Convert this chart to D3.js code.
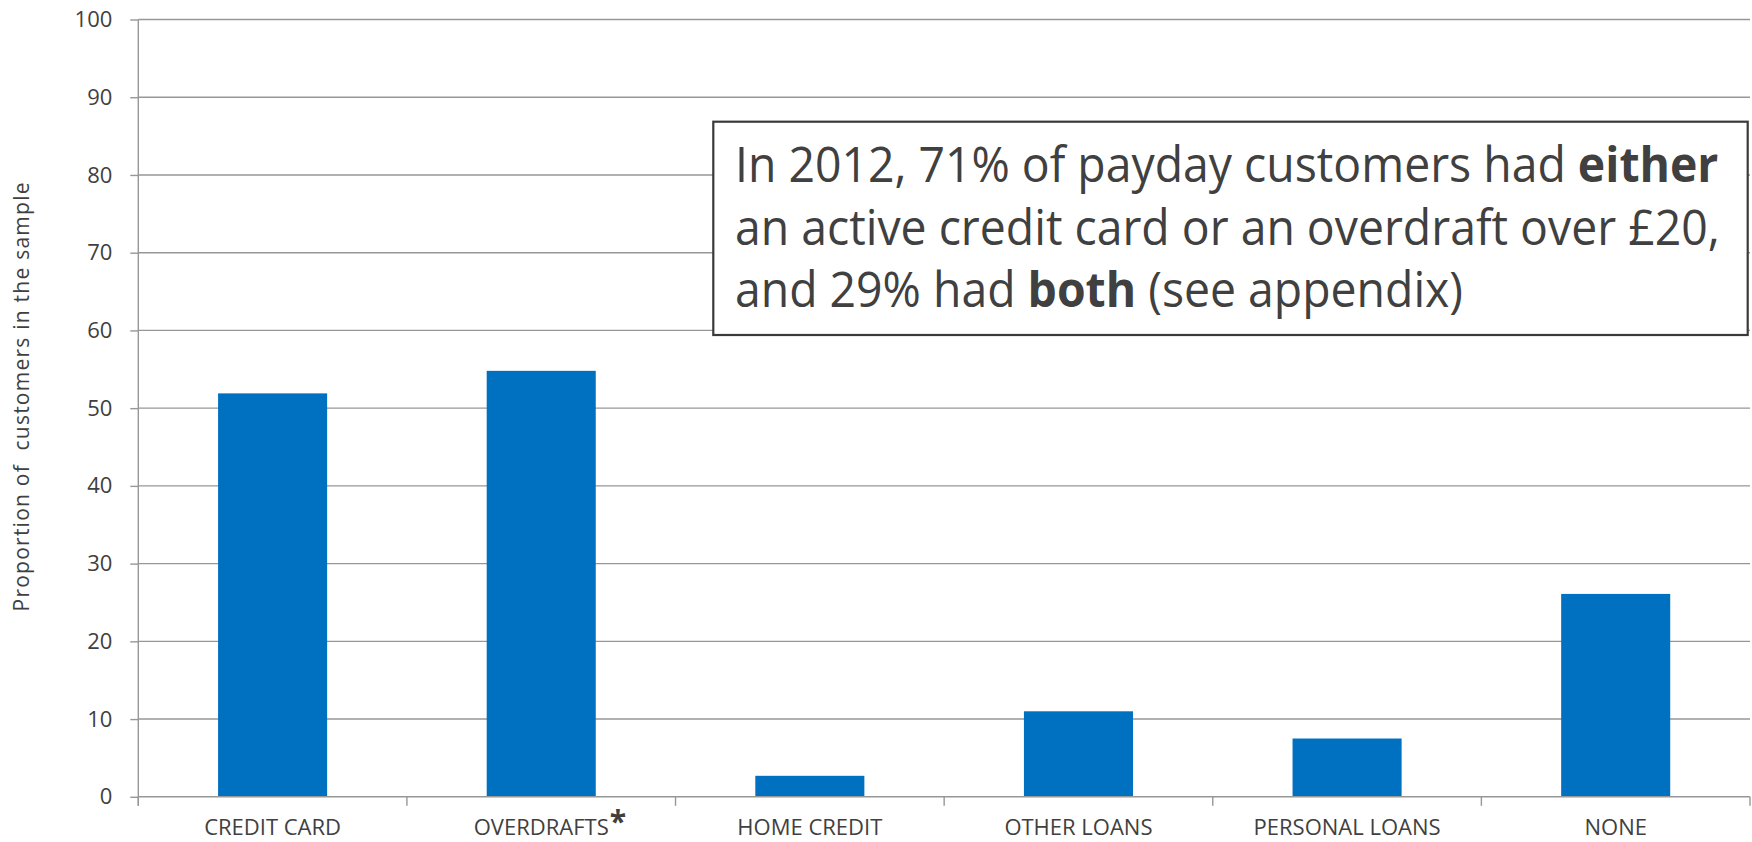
<!DOCTYPE html>
<html>
<head>
<meta charset="utf-8">
<script src="https://cdn.jsdelivr.net/npm/d3@7"></script>
<style>
  body { margin: 0; background: #fff; }
  text { font-family: "Open Sans", sans-serif; fill: #404040; }
</style>
</head>
<body>
<div id="chart"></div>
<script>
// data
var categories = ["CREDIT CARD", "OVERDRAFTS", "HOME CREDIT", "OTHER LOANS", "PERSONAL LOANS", "NONE"];
var values = [51.9, 54.8, 2.7, 11.0, 7.5, 26.1];
var yTicks = [0, 10, 20, 30, 40, 50, 60, 70, 80, 90, 100];
var yTitle = "Proportion of \u00a0customers in the sample";
var footnoted = "OVERDRAFTS";
var noteLines = [
  [{t: "In 2012, 71% of payday customers had "}, {t: "either", b: true}],
  [{t: "an active credit card or an overdraft over \u00a320,"}],
  [{t: "and 29% had "}, {t: "both", b: true}, {t: " (see appendix)"}]
];

var W = 1752, H = 842;
var margin = {top: 19.5, right: 2, bottom: 45, left: 138.3};
var width = W - margin.left - margin.right,
    height = 796.8 - margin.top;

var svg = d3.select("#chart").append("svg")
            .attr("width", W)
            .attr("height", H);

var chart = svg.append("g")
               .attr("transform", "translate(" + margin.left + "," + margin.top + ")");

var x = d3.scaleBand()
          .domain(categories)
          .range([0, width])
          .paddingInner(0.594)
          .paddingOuter(0.297);
var xTick = d3.scaleBand().domain(categories).range([0, width]);
var y = d3.scaleLinear()
          .domain([0, 100])
          .range([height, 0]);

// gridlines
chart.append("g")
     .selectAll("line")
     .data(yTicks.filter(function(d) { return d > 0; }))
     .enter()
     .append("line")
     .attr("x1", 0)
     .attr("x2", width)
     .attr("y1", function(d) { return y(d); })
     .attr("y2", function(d) { return y(d); })
     .attr("stroke", "#979797")
     .attr("stroke-width", 1.4);

// y axis
var yAxis = chart.append("g")
     .call(d3.axisLeft(y).tickValues(yTicks).tickSize(8).tickPadding(18));
yAxis.select(".domain").attr("stroke", "#979797").attr("stroke-width", 1.4)
     .attr("d", "M0,0V" + (height + 9));
yAxis.selectAll(".tick line").attr("stroke", "#979797").attr("stroke-width", 1.4);
yAxis.selectAll(".tick text").style("font-size", "22px").attr("fill", "#404040");

// bars
chart.selectAll(".bar")
     .data(categories)
     .enter()
     .append("rect")
     .attr("class", "bar")
     .attr("x", function(d) { return x(d); })
     .attr("y", function(d, i) { return y(values[i]); })
     .attr("width", x.bandwidth())
     .attr("height", function(d, i) { return height - y(values[i]); })
     .attr("fill", "#0070c0");

// x axis: ticks sit on the band edges
var xg = chart.append("g")
     .attr("transform", "translate(0," + height + ")");
xg.append("line")
  .attr("x1", 0).attr("x2", width)
  .attr("stroke", "#979797").attr("stroke-width", 1.4);
xg.selectAll(".edge")
  .data(categories.concat(["end"]))
  .enter()
  .append("line")
  .attr("class", "edge")
  .attr("x1", function(d, i) { return i < categories.length ? xTick(d) : width; })
  .attr("x2", function(d, i) { return i < categories.length ? xTick(d) : width; })
  .attr("y1", 0).attr("y2", 9)
  .attr("stroke", "#979797").attr("stroke-width", 1.4);

var labels = xg.selectAll(".lab")
  .data(categories)
  .enter()
  .append("text")
  .attr("class", "lab")
  .attr("x", function(d) { return xTick(d) + xTick.bandwidth() / 2; })
  .attr("y", 38.5)
  .attr("text-anchor", "middle")
  .style("font-size", "22px")
  .text(function(d) { return d; });

// footnote star after OVERDRAFTS, word itself stays centred
labels.filter(function(d) { return d == footnoted; })
  .each(function(d) {
    var len = this.getComputedTextLength();
    var x0 = xTick(d) + xTick.bandwidth() / 2 + len / 2;
    xg.append("text")
      .attr("x", x0 + 1)
      .attr("y", 35.5)
      .style("font-size", "30px")
      .style("font-weight", "bold")
      .text("*");
  });

// y title
svg.append("text")
   .attr("transform", "translate(29,397) rotate(-90)")
   .attr("text-anchor", "middle")
   .attr("textLength", 429)
   .style("font-size", "21px")
   .text(yTitle);

// annotation box
svg.append("rect")
   .attr("x", 713.3)
   .attr("y", 121.7)
   .attr("width", 1034.4)
   .attr("height", 213.3)
   .attr("fill", "#fff")
   .attr("stroke", "#3a3a3a")
   .attr("stroke-width", 2.2);

var note = svg.append("g").attr("transform", "translate(735,0)");
var baselines = [181.7, 245, 306.7];
var noteTexts = note.selectAll("text")
   .data(noteLines)
   .enter()
   .append("text")
   .attr("x", 0)
   .attr("y", function(d, i) { return baselines[i]; })
   .style("font-size", "49px");
noteTexts.each(function(parts) {
  var t = d3.select(this);
  parts.forEach(function(p) {
    t.append("tspan")
     .style("font-weight", p.b ? "bold" : "normal")
     .text(p.t);
  });
});
// squeeze the text to the width of the original (narrow) face
var w2 = noteTexts.nodes()[1].getComputedTextLength();
note.attr("transform", "translate(735,0) scale(" + (985 / w2) + ",1)");
</script>
</body>
</html>
